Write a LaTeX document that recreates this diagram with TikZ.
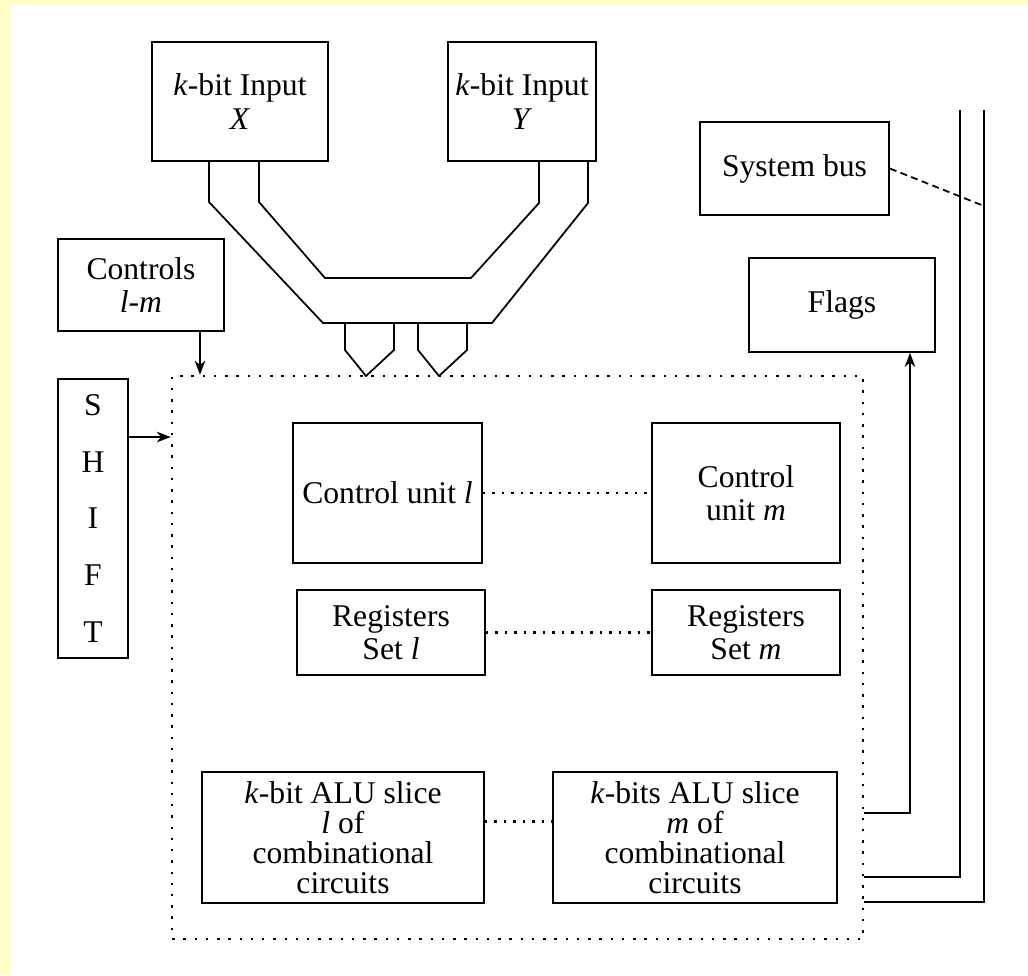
\documentclass[tikz,border=0pt]{standalone}
\usepackage{fontspec}
\setmainfont{Liberation Serif}
\usetikzlibrary{calc, arrows.meta}
\definecolor{bgyellow}{RGB}{255,255,200}

\begin{document}
\begin{tikzpicture}[x = 0.02cm, y = -0.02cm,
    blk/.style = {draw, line width = 1pt, inner sep = 0pt, align = center,
                  font = \fontsize{18}{19}\selectfont},
    linkdot/.style = {line width = 1.3pt, dash pattern = on 1.4pt off 4pt},
    wire/.style = {line width = 1pt}]

% Background
    \fill[bgyellow] (0,0) rectangle (1028,975);
    \fill[white] (11,5) rectangle (1028,975);
    \useasboundingbox (0,0) rectangle (1028,975);

% Nodes
    \node[blk, minimum width = 3.52cm, minimum height = 2.38cm] (inX) at (240,101.5) {\textit{k}-bit Input\\\textit{X}};
    \node[blk, minimum width = 2.96cm, minimum height = 2.38cm] (inY) at (522,101.5) {\textit{k}-bit Input\\\textit{Y}};
    \node[blk, minimum width = 3.32cm, minimum height = 1.84cm] (ctrl) at (141,285) {Controls\\\textit{l}-\textit{m}};
    \node[blk, minimum width = 1.40cm, minimum height = 5.58cm, font = \fontsize{18}{32.4}\selectfont] (shift) at (93,518.5) {S\\H\\I\\F\\T};
    \node[blk, minimum width = 3.78cm, minimum height = 1.86cm] (sysbus) at (794.5,168.5) {System bus};
    \node[blk, minimum width = 3.72cm, minimum height = 1.88cm] (flags) at (842,305) {Flags};
    \node[draw, line width = 1.5pt, dash pattern = on 1.4pt off 5pt, minimum width = 13.82cm, minimum height = 11.26cm] (core) at (517.5,657.5) {};
    \node[blk, minimum width = 3.78cm, minimum height = 2.80cm] (cul) at (387.5,493) {Control unit \textit{l}};
    \node[blk, minimum width = 3.76cm, minimum height = 2.80cm] (cum) at (746,493) {Control\\unit \textit{m}};
    \node[blk, minimum width = 3.76cm, minimum height = 1.70cm] (regl) at (391,632.5) {Registers\\Set \textit{l}};
    \node[blk, minimum width = 3.76cm, minimum height = 1.70cm] (regm) at (746,632.5) {Registers\\Set \textit{m}};
    \node[blk, minimum width = 5.64cm, minimum height = 2.62cm, font = \fontsize{18}{17}\selectfont] (alul) at (343,837.5) {\textit{k}-bit ALU slice\\\textit{l} of\\combinational\\circuits};
    \node[blk, minimum width = 5.68cm, minimum height = 2.62cm, font = \fontsize{18}{17}\selectfont] (alum) at (695,837.5) {\textit{k}-bits ALU slice\\\textit{m} of\\combinational\\circuits};

% Input bus
    \draw[wire] (209,161) -- (209,202) -- (323,323) -- (492,323) -- (588,203) -- (588,161);
    \draw[wire] (259,161) -- (259,202) -- (325,278) -- (471,278) -- (539,203) -- (539,161);
    \draw[wire] (345,323) -- (345,350) -- (366,376) -- (394,350) -- (394,323);
    \draw[wire] (418,323) -- (418,350) -- (439,376) -- (467,350) -- (467,323);

% Coordinates
    \coordinate (ctrlOut) at (200,331);
    \coordinate (shiftOut) at (shift.east |- 0,437);
    \coordinate (coreOut) at (core.east |- 0,813);
    \coordinate (flagsIn) at (flags.south -| 910,0);
    \coordinate (busA) at (960,110);
    \coordinate (busB) at (984,110);

% Directions
    \draw [->, > = {Stealth[length = 8pt, width = 6pt, inset = 2.5pt]}, wire] (ctrlOut) -- (ctrlOut |- core.north);
    \draw [->, > = {Stealth[length = 8pt, width = 6pt, inset = 2.5pt]}, wire] (shiftOut) -- (shiftOut -| core.west);
    \draw [->, > = {Stealth[length = 8pt, width = 6pt, inset = 2.5pt]}, wire] (coreOut) -| (flagsIn);

% System bus
    \draw[wire] (busA) -- (busA |- 0,877) -- (core.east |- 0,877);
    \draw[wire] (busB) -- (busB |- 0,902) -- (core.east |- 0,902);
    \draw[line width = 1pt, dash pattern = on 4pt off 2.5pt] (sysbus.east) -- (busB |- 0,206);

% Slice links
    \draw[linkdot] (cul.east) -- (cum.west);
    \draw[linkdot] (regl.east) -- (regm.west);
    \draw[linkdot] ($(alul.east)+(0,-16)$) -- ($(alum.west)+(0,-16)$);

\end{tikzpicture}
\end{document}
